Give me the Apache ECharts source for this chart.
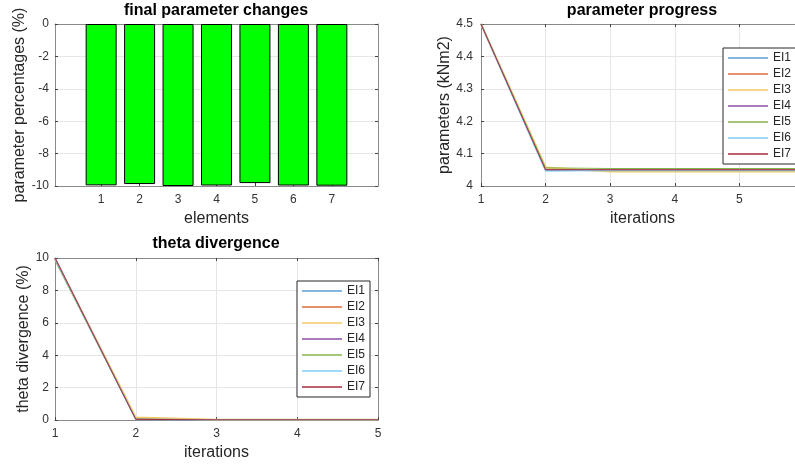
<!DOCTYPE html>
<html>
<head>
<meta charset="utf-8">
<script src="https://cdn.jsdelivr.net/npm/echarts@6/dist/echarts.min.js"></script>
<style>html,body{margin:0;padding:0;background:#fff;overflow:hidden}#c{width:812px;height:466px}</style>
</head>
<body>
<div id="c"></div>
<script>
// ---- data ----
const elements = [1, 2, 3, 4, 5, 6, 7];
const paramChanges = [-9.96, -9.88, -10, -9.97, -9.82, -9.97, -9.98];

const iterationsProgress = [1, 2, 3, 4, 5, 6];
const seriesNames = ['EI1', 'EI2', 'EI3', 'EI4', 'EI5', 'EI6', 'EI7'];
const progEI1 = [4.5, 4.048, 4.049, 4.049, 4.049, 4.049];
const progEI2 = [4.5, 4.052, 4.050, 4.050, 4.050, 4.050];
const progEI3 = [4.5, 4.057, 4.045, 4.045, 4.045, 4.045];
const progEI4 = [4.5, 4.050, 4.049, 4.049, 4.049, 4.049];
const progEI5 = [4.5, 4.056, 4.054, 4.054, 4.054, 4.054];
const progEI6 = [4.5, 4.047, 4.048, 4.048, 4.048, 4.048];
const progEI7 = [4.5, 4.050, 4.050, 4.050, 4.050, 4.050];

const iterationsTheta = [1, 2, 3, 4, 5];
const thetaEI1 = [10.0, 0.05, 0.01, 0.01, 0.01];
const thetaEI2 = [9.9, 0.10, 0.01, 0.01, 0.01];
const thetaEI3 = [9.95, 0.15, 0.01, 0.01, 0.01];
const thetaEI4 = [10.0, 0.05, 0.01, 0.01, 0.01];
const thetaEI5 = [9.85, 0.06, 0.01, 0.01, 0.01];
const thetaEI6 = [9.95, 0.05, 0.01, 0.01, 0.01];
const thetaEI7 = [10.0, 0.04, 0.01, 0.01, 0.01];

const progData = [progEI1, progEI2, progEI3, progEI4, progEI5, progEI6, progEI7];
const thetaData = [thetaEI1, thetaEI2, thetaEI3, thetaEI4, thetaEI5, thetaEI6, thetaEI7];

// ---- styles ----
const colors = ['#5b9fd4', '#dd6a3a', '#f2c866', '#8f4ea0', '#86b64a', '#7fcdf0', '#a8283f'];
const lineWidths = [1.4, 1, 2, 1, 1, 1.4, 1];
const FONT = 'Liberation Sans';
const axisColor = '#8a8a8a';
const gridLineColor = '#e6e6e6';
const labelColor = '#333';

function mainX(gridIndex, min, max, opts) {
  return Object.assign({
    type: 'value', gridIndex, min, max, position: 'bottom',
    axisLine: { show: true, onZero: false, lineStyle: { color: axisColor, width: 1 } },
    axisTick: { show: true, inside: true, length: 3, lineStyle: { color: '#444' } },
    axisLabel: { color: labelColor, fontSize: 12, fontFamily: FONT, margin: 8 },
    splitLine: { show: true, lineStyle: { color: gridLineColor } },
    nameLocation: 'middle', nameGap: 25,
    nameTextStyle: { color: '#262626', fontSize: 16, fontFamily: FONT }
  }, opts || {});
}
function mainY(gridIndex, min, max, interval, opts) {
  return Object.assign({
    type: 'value', gridIndex, min, max, interval, position: 'left',
    axisLine: { show: true, onZero: false, lineStyle: { color: axisColor, width: 1 } },
    axisTick: { show: true, inside: true, length: 3, lineStyle: { color: '#444' } },
    axisLabel: { color: labelColor, fontSize: 12, fontFamily: FONT, margin: 6 },
    splitLine: { show: true, lineStyle: { color: gridLineColor } },
    nameLocation: 'middle', nameGap: 26,
    nameTextStyle: { color: '#262626', fontSize: 16, fontFamily: FONT }
  }, opts || {});
}
function sideX(gridIndex, min, max, opts) {
  return Object.assign({
    type: 'value', gridIndex, min, max, position: 'top',
    axisLine: { show: true, onZero: false, lineStyle: { color: axisColor, width: 1 } },
    axisTick: { show: true, inside: true, length: 3, lineStyle: { color: '#444' } },
    axisLabel: { show: false }, splitLine: { show: false }
  }, opts || {});
}
function sideY(gridIndex, min, max, interval) {
  return {
    type: 'value', gridIndex, min, max, interval, position: 'right',
    axisLine: { show: true, onZero: false, lineStyle: { color: axisColor, width: 1 } },
    axisTick: { show: true, inside: true, length: 3, lineStyle: { color: '#444' } },
    axisLabel: { show: false }, splitLine: { show: false }
  };
}

const series = [];
series.push({
  type: 'bar', name: 'changes', xAxisIndex: 0, yAxisIndex: 0,
  data: elements.map((e, i) => [e, paramChanges[i]]),
  barWidth: 31,
  itemStyle: { color: '#00ff00', borderColor: '#000', borderWidth: 1 },
  z: 1
});
seriesNames.forEach((n, i) => {
  series.push({
    type: 'line', name: n, xAxisIndex: 2, yAxisIndex: 2,
    data: iterationsProgress.map((x, j) => [x, progData[i][j]]),
    symbol: 'none', color: colors[i],
    lineStyle: { color: colors[i], width: lineWidths[i] }, z: 3
  });
});
seriesNames.forEach((n, i) => {
  series.push({
    type: 'line', name: n, xAxisIndex: 4, yAxisIndex: 4,
    data: iterationsTheta.map((x, j) => [x, thetaData[i][j]]),
    symbol: 'none', color: colors[i],
    lineStyle: { color: colors[i], width: lineWidths[i] }, z: 3
  });
});

const legendBase = {
  orient: 'vertical', data: seriesNames,
  icon: 'rect', itemWidth: 40, itemHeight: 1.5, itemGap: 4,
  padding: [4, 5, 4, 5], backgroundColor: '#fff',
  borderColor: '#262626', borderWidth: 1, borderRadius: 0,
  textStyle: { color: '#262626', fontSize: 12, fontFamily: FONT },
  selectedMode: false
};

const option = {
  animation: false,
  backgroundColor: '#fff',
  textStyle: { fontFamily: FONT },
  grid: [
    { left: 55, top: 24, width: 323, height: 162 },
    { left: 481, top: 24, width: 323, height: 162 },
    { left: 55, top: 258, width: 323, height: 162 }
  ],
  xAxis: [
    mainX(0, -0.2, 8.2, {
      name: 'elements',
      axisLabel: { color: labelColor, fontSize: 12, fontFamily: FONT, margin: 8, customValues: elements },
      axisTick: { show: true, inside: true, length: 3, customValues: elements, lineStyle: { color: '#444' } },
      splitLine: { show: false }
    }),
    sideX(0, -0.2, 8.2, { axisTick: { show: true, inside: true, length: 3, customValues: elements, lineStyle: { color: '#444' } } }),
    mainX(1, 1, 6, { interval: 1, name: 'iterations' }),
    sideX(1, 1, 6, { interval: 1 }),
    mainX(2, 1, 5, { interval: 1, name: 'iterations' }),
    sideX(2, 1, 5, { interval: 1 })
  ],
  yAxis: [
    mainY(0, -10, 0, 2, { name: 'parameter percentages (%)', nameGap: 25 }),
    sideY(0, -10, 0, 2),
    mainY(1, 4, 4.5, 0.1, { name: 'parameters (kNm2)', nameGap: 23, axisLabel: { color: labelColor, fontSize: 12, fontFamily: FONT, margin: 8 } }),
    sideY(1, 4, 4.5, 0.1),
    mainY(2, 0, 10, 2, { name: 'theta divergence (%)', nameGap: 22 }),
    sideY(2, 0, 10, 2)
  ],
  legend: [
    Object.assign({}, legendBase, { left: 723, top: 48 }),
    Object.assign({}, legendBase, { left: 297, top: 281 })
  ],
  graphic: [
    { type: 'text', x: 216, y: 3, style: { text: 'final parameter changes', textAlign: 'center', font: 'bold 16px "Liberation Sans"', fill: '#000' } },
    { type: 'text', x: 642, y: 3, style: { text: 'parameter progress', textAlign: 'center', font: 'bold 16px "Liberation Sans"', fill: '#000' } },
    { type: 'text', x: 216, y: 236, style: { text: 'theta divergence', textAlign: 'center', font: 'bold 16px "Liberation Sans"', fill: '#000' } }
  ],
  series
};

const chart = echarts.init(document.getElementById('c'), null, { renderer: 'canvas', width: 812, height: 466 });
chart.setOption(option);
</script>
</body>
</html>
